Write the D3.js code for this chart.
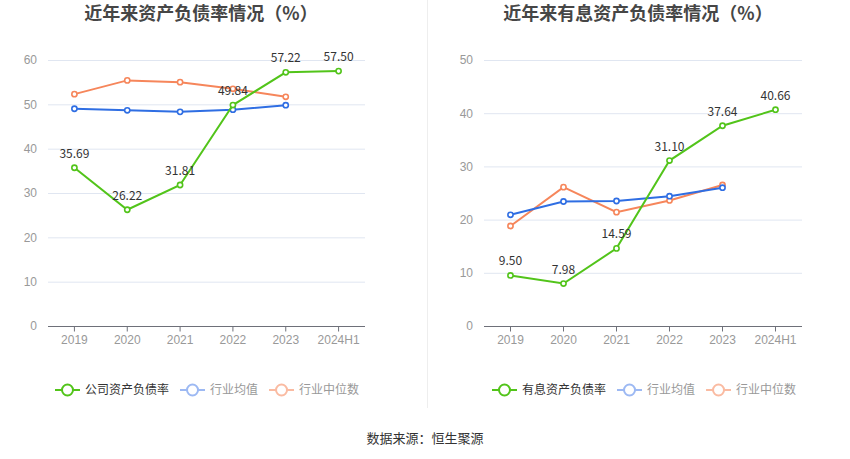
<!DOCTYPE html>
<html>
<head>
<meta charset="utf-8">
<script src="https://cdn.jsdelivr.net/npm/d3@7/dist/d3.min.js"></script>
<style>
body { margin: 0; background: #fff; }
svg { font-family: "Noto Sans CJK SC", "Noto Sans", sans-serif; }
</style>
</head>
<body>
<div id="chart"></div>
<script>
var years = ["2019", "2020", "2021", "2022", "2023", "2024H1"]

var debtRatio = [35.69, 26.22, 31.81, 49.84, 57.22, 57.50]
var debtAvg = [49.0, 48.65, 48.3, 48.8, 49.8]
var debtMedian = [52.3, 55.4, 55.0, 53.5, 51.7]

var interestRatio = [9.50, 7.98, 14.59, 31.10, 37.64, 40.66]
var interestAvg = [20.9, 23.4, 23.5, 24.4, 26.0]
var interestMedian = [18.8, 26.1, 21.4, 23.6, 26.5]

var leftTicks = [0, 10, 20, 30, 40, 50, 60]
var rightTicks = [0, 10, 20, 30, 40, 50]

var green = "#52c41a", blue = "#2f6ee3", orange = "#f6865b"

var svg = d3.select("#chart")
    .append("svg")
    .attr("width", 850)
    .attr("height", 459)

// divider
svg.append("line")
    .attr("x1", 427.5).attr("x2", 427.5)
    .attr("y1", 0).attr("y2", 408)
    .style("stroke", "#eeeeee")

svg.append("text")
    .attr("x", 425).attr("y", 443)
    .attr("text-anchor", "middle")
    .style("font-size", "13px")
    .style("fill", "#333")
    .text("数据来源：恒生聚源")

function drawPanel(opt) {
    var g = svg.append("g")

    g.append("text")
        .attr("x", opt.titleX).attr("y", 20)
        .attr("text-anchor", "middle")
        .style("font-size", "18px")
        .style("font-weight", "bold")
        .style("fill", "#464646")
        .text(opt.title)

    var x = d3.scaleBand().domain(years).range([opt.x0, opt.x1])
    var y = d3.scaleLinear().domain([0, opt.max]).range([326, 60])
    var cx = function (i) { return x(years[i]) + x.bandwidth() / 2 }

    // grid
    g.selectAll("line.grid")
        .data(opt.ticks.slice(1))
        .enter()
        .append("line")
        .attr("class", "grid")
        .attr("x1", opt.x0).attr("x2", opt.x1)
        .attr("y1", function (d) { return y(d) + 0.5 })
        .attr("y2", function (d) { return y(d) + 0.5 })
        .style("stroke", "#e0e6f1")

    var yAxis = g.append("g")
        .attr("transform", "translate(" + (opt.x0 - 8) + ",0)")
        .call(d3.axisLeft(y).tickValues(opt.ticks).tickSize(0))
    yAxis.select(".domain").remove()
    yAxis.selectAll("text").style("fill", "#999").style("font-size", "12px")

    var xAxis = g.append("g")
        .attr("transform", "translate(0,326.5)")
        .call(d3.axisBottom(x).tickSize(5).tickPadding(4))
    xAxis.select(".domain").attr("d", "M" + opt.x0 + ",0H" + opt.x1).style("stroke", "#6e7079")
    xAxis.selectAll(".tick line").style("stroke", "#6e7079")
    xAxis.selectAll("text").style("fill", "#999").style("font-size", "12px")

    var line = d3.line()
        .x(function (d, i) { return cx(i) })
        .y(function (d) { return y(d) })

    var series = [
        { data: opt.median, color: orange },
        { data: opt.avg, color: blue },
        { data: opt.main, color: green }
    ]
    series.forEach(function (s) {
        g.append("path")
            .datum(s.data)
            .attr("d", line)
            .style("fill", "none")
            .style("stroke", s.color)
            .style("stroke-width", 2)
        g.selectAll(null)
            .data(s.data)
            .enter()
            .append("circle")
            .attr("cx", function (d, i) { return cx(i) })
            .attr("cy", function (d) { return y(d) })
            .attr("r", 2.6)
            .style("fill", "#fff")
            .style("stroke", s.color)
            .style("stroke-width", 1.6)
    })

    g.selectAll("text.lbl")
        .data(opt.main)
        .enter()
        .append("text")
        .attr("class", "lbl")
        .attr("x", function (d, i) { return cx(i) })
        .attr("y", function (d) { return y(d) - 10 })
        .attr("text-anchor", "middle")
        .style("font-size", "12px")
        .style("fill", "#333")
        .text(function (d) { return d.toFixed(2) })

    // legend
    var items = [
        { name: opt.mainName, color: green, text: "#333" },
        { name: "行业均值", color: "#9db9f3", text: "#999" },
        { name: "行业中位数", color: "#fabba2", text: "#999" }
    ]
    var lx = opt.legendX
    items.forEach(function (it) {
        var lg = g.append("g").attr("transform", "translate(" + lx + ",390)")
        lg.append("line").attr("x1", 0).attr("x2", 25)
            .style("stroke", it.color).style("stroke-width", 2)
        lg.append("circle").attr("cx", 12.5).attr("r", 5.5)
            .style("fill", "#fff").style("stroke", it.color).style("stroke-width", 2)
        var t = lg.append("text").attr("x", 30).attr("dy", "0.35em")
            .style("font-size", "12px").style("fill", it.text)
            .text(it.name)
        lx += 30 + t.node().getComputedTextLength() + 11
    })
}

drawPanel({
    title: "近年来资产负债率情况（%）", titleX: 201,
    x0: 48, x1: 365, max: 60, ticks: leftTicks,
    main: debtRatio, avg: debtAvg, median: debtMedian,
    mainName: "公司资产负债率", legendX: 55
})

drawPanel({
    title: "近年来有息资产负债率情况（%）", titleX: 638,
    x0: 484, x1: 802, max: 50, ticks: rightTicks,
    main: interestRatio, avg: interestAvg, median: interestMedian,
    mainName: "有息资产负债率", legendX: 492
})
</script>
</body>
</html>
